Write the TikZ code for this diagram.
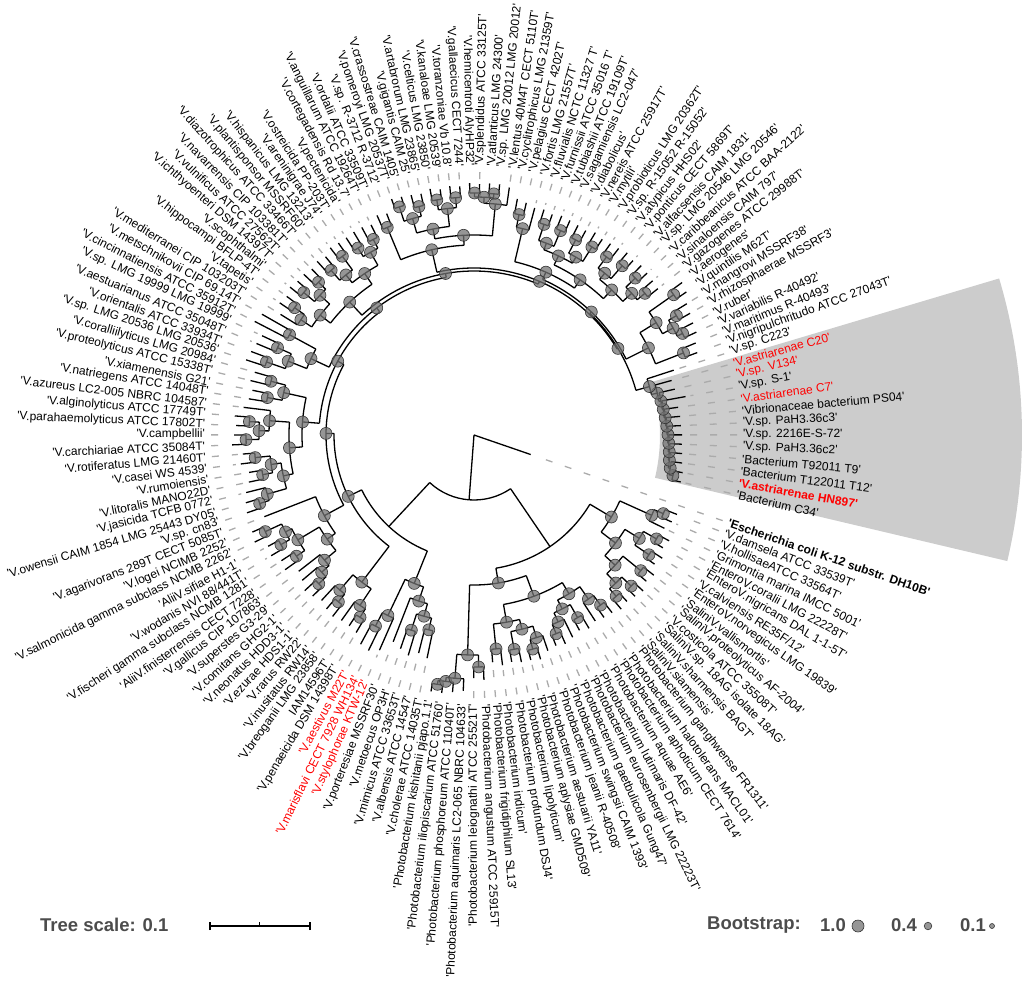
\documentclass[tikz,border=0pt]{standalone}
\usepackage{fontspec}
\setmainfont{Liberation Sans}[Ligatures=TeXOff]
\pgfdeclarelayer{fg}
\pgfsetlayers{main,fg}
\pgfmathdeclarefunction{leafang}{1}{\pgfmathparse{ifthenelse(#1<69.5,-19-(#1-1)*2.368,ifthenelse(#1<140.5,-180-(#1-69)*2.282,-342-(#1-140)*2.567))}}
% clade: first child mid, last child mid, parent radius, radius, bootstrap circle radius
\newcommand\Cl[5]{%
  \pgfmathsetmacro\clA{leafang(#1)}\pgfmathsetmacro\clB{leafang(#2)}\pgfmathsetmacro\clM{leafang((#1+#2)/2)}%
  \draw[br] (\clM:#3) -- (\clM:#4);
  \draw[br] (\clA:#4) arc[start angle=\clA,end angle=\clB,radius=#4pt];
  \ifdim#5pt>0pt
    \begin{pgfonlayer}{fg}\path[bs] (\clM:#4) circle[radius=#5pt];\end{pgfonlayer}
  \fi
}
% leaf: index, parent radius, tip radius
\newcommand\Lf[3]{%
  \pgfmathsetmacro\lfA{leafang(#1)}%
  \draw[br] (\lfA:#2) -- (\lfA:#3);
  \pgfmathtruncatemacro\lfG{#3<252}%
  \ifnum\lfG=1 \draw[guide] (\lfA:263) -- (\lfA:#3+5);\fi
}
\begin{document}
\begin{tikzpicture}[x=1pt,y=1pt,
  br/.style={line width=1.3pt,black},
  guide/.style={line width=1.3pt,black!33,dash pattern=on 7pt off 13pt},
  bs/.style={fill=black!55,fill opacity=0.75,draw=black!80,line width=0.6pt},
  lab/.style={font=\fontsize{12}{12}\selectfont,inner sep=0pt},
  lk/.style={text=black}, lr/.style={text=red},
  lbk/.style={text=black,font=\fontsize{12}{12}\selectfont\bfseries},
  lrb/.style={text=red,font=\fontsize{12}{12}\selectfont\bfseries},
  leg/.style={font=\fontsize{18.5}{19}\selectfont\bfseries,text=black!70,inner sep=0pt}
]
\useasboundingbox (-474,-548) rectangle (553,435);
% highlighted sector
\fill[black!20] (16.6:186) -- (16.6:548) arc[start angle=16.6,end angle=-13.3,radius=548pt] -- (-13.3:186) arc[start angle=-13.3,end angle=16.6,radius=186pt] -- cycle;
% labels
\foreach \c/\t [count=\i] in {
lbk/{'Escherichia coli K-12 substr. DH10B'},
lk/{'V.damsela ATCC 33539T'},
lk/{'V.hollisaeATCC 33564T'},
lk/{'Grimontia marina IMCC 5001'},
lk/{'EnteroV.coralii LMG 22228T'},
lk/{'EnteroV.nigricans DAL 1-1-5T'},
lk/{'V.calviensis RE35F/12'},
lk/{'EnteroV.norvegicus LMG 19839'},
lk/{'SaliniV.vallismortis'},
lk/{'SaliniV.proteolyticus AF-2004'},
lk/{'V.costicola ATCC 35508T'},
lk/{'SaliniV.sp. 18AG isolate 18AG'},
lk/{'SaliniV.sharmensis BAGT'},
lk/{'SaliniV.siamensis'},
lk/{'Photobacterium ganghwense FR1311'},
lk/{'Photobacterium halotolerans MACL01'},
lk/{'Photobacterium aphoticum CECT 7614'},
lk/{'Photobacterium aquae AE6'},
lk/{'Photobacterium lutimaris DF-42'},
lk/{'Photobacterium eurosenbergii LMG 22223T'},
lk/{'Photobacterium gaetbulicola Gung47'},
lk/{'Photobacterium swingsii CAIM 1393'},
lk/{'Photobacterium jeanii R-40508'},
lk/{'Photobacterium aestuarii YA11'},
lk/{'Photobacterium aplysiae GMD509'},
lk/{'Photobacterium lipolyticum'},
lk/{'Photobacterium profundum DSJ4'},
lk/{'Photobacterium indicum'},
lk/{'Photobacterium frigidiphilum SL13'},
lk/{'Photobacterium angustum ATCC 25915T'},
lk/{'Photobacterium leiognathi ATCC 25521T'},
lk/{'Photobacterium aquimaris LC2-065 NBRC 104633'},
lk/{'Photobacterium phosphoreum ATCC 11040T'},
lk/{'Photobacterium iliopiscarium ATCC 51760'},
lk/{'Photobacterium kishitanii pjapo.1.1'},
lk/{'V.cholerae ATCC 14035T'},
lk/{'V.albensis ATCC 14547'},
lk/{'V.mimicus ATCC 33653T'},
lk/{'V.metoecus OP3H'},
lk/{'V.porteresiae MSSRF30'},
lr/{'V.stylophorae KTW-12'},
lr/{'V.marisflavi CECT 7928 WH134'},
lr/{'V.aestivus M22T'},
lk/{'V.penaeicida DSM 14398T'},
lk/{IAM14596T'},
lk/{'V.breoganii LMG 23858'},
lk/{'V.inusitatus RW14'},
lk/{'V.rarus RW22'},
lk/{'V.ezurae HDS1-1'},
lk/{'V.neonatus HDD3-1'},
lk/{'V.comitans GHG2-1'},
lk/{'V.superstes G3-29'},
lk/{'V.gallicus CIP 107863'},
lk/{'AliiV.finisterrensis CECT 7228'},
lk/{'V.fischeri gamma subclass NCMB 1281'},
lk/{'V.wodanis NVI 88/441T'},
lk/{'AliiV.sifiae H1-1'},
lk/{'V.salmonicida gamma subclass NCMB 2262'},
lk/{'V.logei NCIMB 2252'},
lk/{'V.agarivorans 289T CECT 5085T'},
lk/{'V.sp. cn83'},
lk/{'V.owensii CAIM 1854 LMG 25443 DY05'},
lk/{'V.jasicida TCFB 0772'},
lk/{'V.litoralis MANO22D'},
lk/{'V.rumoiensis'},
lk/{'V.casei WS 4539'},
lk/{'V.rotiferatus LMG 21460T'},
lk/{'V.carchiariae ATCC 35084T'},
lk/{'V.campbellii'},
lk/{'V.parahaemolyticus ATCC 17802T'},
lk/{'V.alginolyticus ATCC 17749T'},
lk/{'V.azureus LC2-005 NBRC 104587'},
lk/{'V.natriegens ATCC 14048T'},
lk/{'V.xiamenensis G21'},
lk/{'V.proteolyticus ATCC 15338T'},
lk/{'V.coralliilyticus LMG 20984'},
lk/{'V.sp. LMG 20536 LMG 20536'},
lk/{'V.orientalis ATCC 33934T'},
lk/{'V.aestuarianus ATCC 35048T'},
lk/{'V.sp. LMG 19999 LMG 19999'},
lk/{'V.cincinnatiensis ATCC 35912T'},
lk/{'V.metschnikovii CIP 69.14T'},
lk/{'V.mediterranei CIP 103203T'},
lk/{'V.tapetis'},
lk/{'V.hippocampi BFLP-4T'},
lk/{'V.scophthalmi'},
lk/{'V.ichthyoenteri DSM 14397T'},
lk/{'V.vulnificus ATCC 27562T'},
lk/{'V.navarrensis CIP 103381T'},
lk/{'V.diazotrophicus ATCC 33466T'},
lk/{'V.plantisponsor MSSRF60'},
lk/{'V.hispanicus LMG 13213'},
lk/{'V.areninigrae J74'},
lk/{'V.ostreicida PP-203T'},
lk/{'V.pectenicida'},
lk/{'V.cortegadensis Rd 13.7'},
lk/{'V.anguillarum ATCC 19264T'},
lk/{'V.ordalii ATCC 33509T'},
lk/{'V.sp. R-3712 R-3712'},
lk/{'V.pomeroyi LMG 20537T'},
lk/{'V.crassostreae CAIM 1405'},
lk/{'V.gigantis CAIM 25'},
lk/{'V.artabrorum LMG 23865'},
lk/{'V.celticus LMG 23850'},
lk/{'V.kanaloae LMG 20539'},
lk/{'V.toranzoniae Vb 10.8'},
lk/{'V.gallaecicus CECT 7244'},
lk/{'V.hemicentroti AlyHP32'},
lk/{'V.splendidus ATCC 33125T'},
lk/{'V.atlanticus LMG 24300'},
lk/{'V.sp. LMG 20012 LMG 20012'},
lk/{'V.lentus 40M4T CECT 5110T'},
lk/{'V.cyclitrophicus LMG 21359T'},
lk/{'V.pelagius CECT 4202T'},
lk/{'V.fortis LMG 21557T'},
lk/{'V.fluvialis NCTC 11327 T'},
lk/{'V.furnissii ATCC 35016 T'},
lk/{'V.tubiashii ATCC 19109T'},
lk/{'V.sagamiensis LC2-047'},
lk/{'V.diabolicus'},
lk/{'V.nereis ATCC 25917T'},
lk/{'V.mytili'},
lk/{'V.probioticus LMG 20362T'},
lk/{'V.sp. R-15052 R-15052'},
lk/{'V.atypicus HHS02'},
lk/{'V.ponticus CECT 5869T'},
lk/{'V.alfacsensis CAIM 1831'},
lk/{'V.sp. LMG 20546 LMG 20546'},
lk/{'V.caribbeanicus ATCC BAA-2122'},
lk/{'V.sinaloensis CAIM 797'},
lk/{'V.gazogenes ATCC 29988T'},
lk/{'V.aerogenes'},
lk/{'V.quintilis M62T'},
lk/{'V.mangrovi MSSRF38'},
lk/{'V.rhizosphaerae MSSRF3'},
lk/{'V.ruber'},
lk/{'V.variabilis R-40492'},
lk/{'V.maritimus R-40493'},
lk/{'V.nigripulchritudo ATCC 27043T'},
lk/{'V.sp. C223'},
lr/{'V.astriarenae C20'},
lr/{'V.sp. V134'},
lk/{'V.sp. S-1'},
lr/{'V.astriarenae C7'},
lk/{'Vibrionaceae bacterium PS04'},
lk/{'V.sp. PaH3.36c3'},
lk/{'V.sp. 2216E-S-72'},
lk/{'V.sp. PaH3.36c2'},
lk/{'Bacterium T92011 T9'},
lk/{'Bacterium T122011 T12'},
lrb/{'V.astriarenae HN897'},
lk/{'Bacterium C34'}}{%
  \pgfmathsetmacro\ang{leafang(\i)}%
  \pgfmathtruncatemacro\rs{cos(\ang)>=0}%
  \ifnum\rs=1
    \node[lab,\c,anchor=west,rotate=\ang] (L\i) at (\ang:269) {\t};
  \else
    \pgfmathsetmacro\angb{\ang+180}%
    \node[lab,\c,anchor=east,rotate=\angb] (L\i) at (\ang:269) {\t};
  \fi
}
% ---- tree ----
% internal nodes
\foreach \xa/\xb/\xp/\xr/\xs in {
16.515/49.125/0/65/0,
2/3/195/205/6, 2.5/4/160/195/6, 5/6/195/210/6, 7/8/195/212/6, 5.5/7.5/178/195/6,
9/10/192/215/6, 11/12/205/218/6, 13/14/205/215/6, 11.5/13.5/192/205/6, 9.5/12.5/178/192/6,
6.5/11/160/178/6, 3.25/8.75/135/160/6,
15/16/200/212/6, 15.5/17/185/200/6, 18/19/195/210/6, 21/22/205/215/6, 20/21.5/195/205/6,
18.5/20.75/185/195/6, 16.25/19.625/172/185/6, 24/25/212/222/6, 23/24.5/200/212/6,
26/27/200/218/6, 23.75/26.5/190/200/6, 28/29/190/215/6, 25.125/28.5/172/190/6,
17.94/26.81/150/172/6, 34/35/248/252/6, 33/34.5/244/248/6, 32/33.75/220/244/6,
30/31/220/232/6, 30.5/32.875/150/220/6, 22.375/31.69/135/150/6,
6/27.03/65/135/0,
36/37/188/200/6, 38/39/188/205/6, 36.5/38.5/175/188/6, 37.5/40/160/175/6,
42/43/200/215/6, 41/42.5/160/200/6, 38.75/41.75/125/160/6,
44/45/205/215/6, 44.5/46/185/205/6, 47/48/205/215/6, 47.5/49/185/205/6, 45.25/48.25/140/185/6,
50/51/205/215/6, 50.5/52/195/205/6, 51.25/53/180/195/6, 54/55/205/215/6,
56/57/212/222/6, 58/59/212/230/6, 56.5/58.5/205/212/6, 54.5/57.5/180/205/6,
52.125/56/170/180/6, 54.0625/60/148/170/6,
61/62/215/225/6, 61.5/63/195/215/6, 64/65/205/215/6, 66/67/205/220/6, 64.5/66.5/195/205/6,
62.25/65.5/185/195/6, 68/69/215/228/6, 70/71/215/225/6, 68.5/70.5/205/215/6,
69.5/72/185/205/6, 63.875/70.75/172/185/6, 73/74/195/210/6, 75/76/195/210/6,
73.5/75.5/172/195/6, 67.3125/74.5/155/172/6,
77/78/200/220/6, 79/80/200/215/6, 77.5/79.5/180/200/6, 81/82/180/210/6, 78.5/81.5/160/180/6,
84/85/208/220/6, 83/84.5/195/208/6, 86/87/208/222/6, 88/89/208/218/6, 86.5/88.5/195/208/6,
83.75/87.5/182/195/6, 90/91/205/218/6, 92/93/205/222/6, 90.5/92.5/195/205/6,
94/95/210/220/6, 96/97/210/220/6, 94.5/96.5/195/210/6, 91.5/95.5/182/195/6,
85.625/93.5/164/182/6,
98/99/190/225/6, 100/101/225/240/6, 102/103/225/235/6, 100.5/102.5/210/225/6,
104/105/228/238/6, 106/107/228/238/6, 104.5/106.5/210/228/6, 101.5/105.5/200/210/6,
108/109/238/242/6, 110/111/238/242/6, 108.5/110.5/232/238/6, 109.5/112/200/232/6,
103.5/110.75/190/200/6, 98.5/107.125/167/190/6,
113/114/212/225/6, 113.5/115/178/212/6, 116/117/205/222/6, 118/119/205/222/6,
116.5/118.5/198/205/6, 120/121/205/220/6, 122/123/205/222/6, 120.5/122.5/198/205/6,
117.5/121.5/188/198/6, 124/125/208/222/6, 126/127/208/225/6, 124.5/126.5/200/208/6,
128/129/212/225/6, 130/131/212/222/6, 128.5/130.5/200/212/6, 125.5/129.5/188/200/6,
119.5/127.5/178/188/6, 114.25/123.5/170/178/6,
132/133/214/244/6, 134/135/226/235/6, 136/137/226/232/6, 134.5/136.5/214/226/6,
132.5/135.5/195/214/6, 138/139/195/225/6, 134/138.5/170/195/6,
151/152/199/203/6, 150/151.5/197/199/6, 149/150.75/196/197/6, 148/149.875/195/196/6,
147/148.9375/194/195/6, 146/147.97/193/194/6, 145/146.98/192/193/6, 144/145.99/191/192/6,
143/144.995/190/191/6, 142/143.9975/188/190/6, 141/142.999/182/188/6, 140/142.0/168/182/6,
118.875/136.25/168/170/6, 127.5625/141.0/167/168/6, 102.8125/134.28/164/167/6,
89.5625/118.55/160/164/6, 80/104.06/155/160/6, 70.906/92.03/148/155/6,
57.03/81.47/140/148/6, 46.75/69.25/125/140/6, 40.25/58.0/65/125/0}{%
  \Cl{\xa}{\xb}{\xp}{\xr}{\xs}
}
% leaves
\foreach \xi/\xp/\xt in {
1/0/60, 2/205/218, 3/205/216, 4/195/212, 5/210/222, 6/210/220, 7/212/225, 8/212/222,
9/215/228, 10/215/226, 11/218/230, 12/218/228, 13/215/226, 14/215/228,
15/212/225, 16/212/224, 17/200/222, 18/210/225, 19/210/222, 20/205/225, 21/215/228, 22/215/226,
23/212/228, 24/222/234, 25/222/232, 26/218/232, 27/218/230, 28/215/232, 29/215/228,
30/232/245, 31/232/243, 32/244/256, 33/248/258, 34/252/260, 35/252/260,
36/200/228, 37/200/225, 38/205/230, 39/205/226, 40/175/222,
41/200/235, 42/215/240, 43/215/238,
44/215/230, 45/215/228, 46/205/228, 47/215/230, 48/215/228, 49/205/225,
50/215/228, 51/215/230, 52/205/225, 53/195/222,
54/215/232, 55/215/230, 56/222/236, 57/222/234, 58/230/244, 59/230/242, 60/170/225,
61/225/240, 62/225/238, 63/215/235, 64/215/230, 65/215/228, 66/220/235, 67/220/232,
68/228/242, 69/228/240, 70/225/238, 71/225/240, 72/205/232,
73/210/228, 74/210/226, 75/210/230, 76/210/228,
77/220/240, 78/220/238, 79/215/236, 80/215/234, 81/210/247, 82/210/244,
83/208/228, 84/220/235, 85/220/233, 86/222/236, 87/222/234, 88/218/234, 89/218/232,
90/218/234, 91/218/232, 92/222/236, 93/222/235, 94/220/235, 95/220/236, 96/220/236, 97/220/234,
98/225/240, 99/225/238,
100/240/250, 101/240/249, 102/235/248, 103/235/247, 104/238/250, 105/238/248, 106/238/250, 107/238/249,
108/242/252, 109/242/251, 110/242/252, 111/242/252, 112/232/250,
113/225/240, 114/225/238, 115/212/235,
116/222/236, 117/222/234, 118/222/236, 119/222/235, 120/220/234, 121/220/233, 122/222/236, 123/222/234,
124/222/235, 125/222/236, 126/225/238, 127/225/236, 128/225/238, 129/225/237, 130/222/236, 131/222/235,
132/244/258, 133/244/256, 134/235/250, 135/235/248, 136/232/246, 137/232/245, 138/225/240, 139/225/238,
140/182/210, 141/188/205, 142/190/206, 143/191/215, 144/192/206, 145/193/207, 146/194/207,
147/195/208, 148/196/208, 149/197/209, 150/199/210, 151/203/212, 152/203/212}{%
  \Lf{\xi}{\xp}{\xt}
}
% ---- legend ----
\node[leg,anchor=west] (ts) at (-434,-490) {Tree scale: 0.1};
\coordinate (sb1) at (-264,-491);
\coordinate (sb2) at (-164,-491);
\coordinate (sbm) at (-214,-491);
\draw[line width=1.2pt] (sb1) -- (sb2);
\draw[line width=1.2pt] ([yshift=-4pt]sb1) -- ([yshift=4pt]sb1);
\draw[line width=1.2pt] ([yshift=-4pt]sb2) -- ([yshift=4pt]sb2);
\draw[line width=1pt] (sbm) -- ([yshift=4pt]sbm);
\node[leg,anchor=west] (bt) at (233,-490) {Bootstrap:};
\node[leg,anchor=west] (b1) at (346,-490) {1.0};
\path[bs] (384,-491) circle[radius=6pt];
\node[leg,anchor=west] (b2) at (417,-490) {0.4};
\path[bs] (454,-491) circle[radius=3.8pt];
\node[leg,anchor=west] (b3) at (486,-490) {0.1};
\path[bs] (518,-491) circle[radius=2.5pt];
\end{tikzpicture}
\end{document}
